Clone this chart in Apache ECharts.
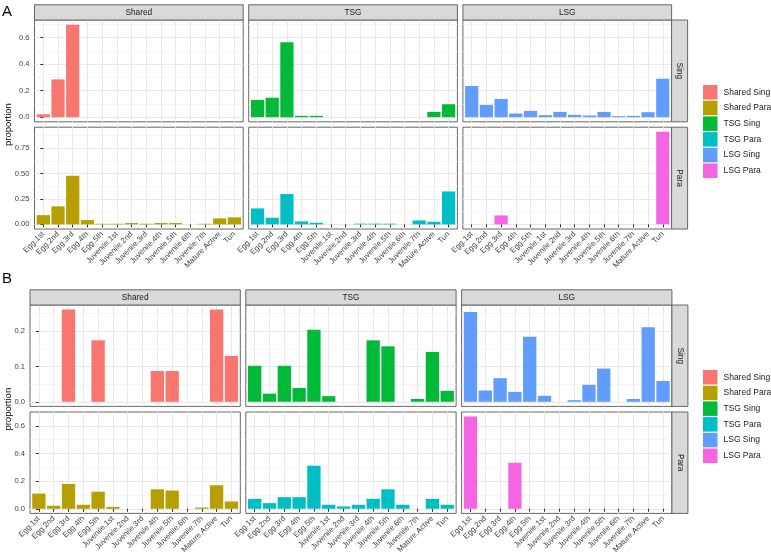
<!DOCTYPE html>
<html><head><meta charset="utf-8">
<script src="https://cdn.jsdelivr.net/npm/echarts@6/dist/echarts.min.js"></script>
<style>html,body{margin:0;padding:0;background:#fff}#c{width:771px;height:559px}</style>
</head><body><div id="c"></div>
<script>
// ---------- data ----------
const categories = ['Egg.1st','Egg.2nd','Egg.3rd','Egg.4th','Egg.5th','Juvenile.1st','Juvenile.2nd','Juvenile.3rd','Juvenile.4th','Juvenile.5th','Juvenile.6th','Juvenile.7th','Mature.Active','Tun'];
const columnNames = ['Shared','TSG','LSG'];
const rowNames = ['Sing','Para'];

// Panel A
const A_Shared_Sing = [0.022,0.285,0.698,0,0,0,0,0,0,0,0,0,0,0];
const A_Shared_Para = [0.091,0.177,0.478,0.042,0.006,0.006,0.013,0.006,0.013,0.013,0,0.006,0.059,0.069];
const A_TSG_Sing    = [0.13,0.147,0.565,0.01,0.01,0,0,0,0,0,0,0,0.04,0.0975];
const A_TSG_Para    = [0.157,0.065,0.298,0.029,0.016,0,0,0.007,0.007,0.007,0,0.039,0.026,0.324];
const A_LSG_Sing    = [0.235,0.0925,0.1375,0.0275,0.0475,0.015,0.04,0.0175,0.0125,0.04,0.0075,0.01,0.0375,0.29];
const A_LSG_Para    = [0,0,0.088,0,0,0,0,0,0,0,0,0,0,0.91];

// Panel B
const B_Shared_Sing = [0,0,0.261,0,0.174,0,0,0,0.087,0.087,0,0,0.261,0.13];
const B_Shared_Para = [0.11,0.022,0.18,0.029,0.124,0.014,0,0,0.141,0.132,0,0.009,0.17,0.053];
const B_TSG_Sing    = [0.102,0.023,0.102,0.039,0.204,0.016,0,0,0.174,0.157,0,0.008,0.141,0.031];
const B_TSG_Para    = [0.072,0.041,0.084,0.084,0.312,0.029,0.017,0.029,0.072,0.141,0.029,0,0.072,0.029];
const B_LSG_Sing    = [0.254,0.032,0.067,0.028,0.184,0.017,0,0.0045,0.048,0.094,0,0.008,0.211,0.059];
const B_LSG_Para    = [0.667,0,0,0.333,0,0,0,0,0,0,0,0,0,0];

// tick labels
const A_Sing_ticks = [0,0.2,0.4,0.6];
const A_Sing_minor = [0.1,0.3,0.5,0.7];
const A_Para_ticks = [0,0.25,0.5,0.75];
const A_Para_minor = [0.125,0.375,0.625,0.875];
const B_Sing_ticks = [0,0.1,0.2];
const B_Sing_minor = [0.05,0.15,0.25];
const B_Para_ticks = [0,0.2,0.4,0.6];
const B_Para_minor = [0.1,0.3,0.5];

const legendNames = ['Shared Sing','Shared Para','TSG Sing','TSG Para','LSG Sing','LSG Para'];
const palette = {'Shared Sing':'#F8766D','Shared Para':'#B79F00','TSG Sing':'#00BA38','TSG Para':'#00BFC4','LSG Sing':'#619CFF','LSG Para':'#F564E3'};

// ---------- layout ----------
const FONT = '"Liberation Sans", Arial, sans-serif';
const figures = [
  { tag:'A', tagY:4, values:{Shared:{Sing:A_Shared_Sing,Para:A_Shared_Para},TSG:{Sing:A_TSG_Sing,Para:A_TSG_Para},LSG:{Sing:A_LSG_Sing,Para:A_LSG_Para}},
    ticks:{Sing:A_Sing_ticks,Para:A_Para_ticks}, minor:{Sing:A_Sing_minor,Para:A_Para_minor}, digits:{Sing:1,Para:2},
    left:34.5, top:20, W:208.7, H:101.8, gapX:5.5, gapY:5.4, legendTop:85 },
  { tag:'B', tagY:271, values:{Shared:{Sing:B_Shared_Sing,Para:B_Shared_Para},TSG:{Sing:B_TSG_Sing,Para:B_TSG_Para},LSG:{Sing:B_LSG_Sing,Para:B_LSG_Para}},
    ticks:{Sing:B_Sing_ticks,Para:B_Para_ticks}, minor:{Sing:B_Sing_minor,Para:B_Para_minor}, digits:{Sing:1,Para:1},
    left:30, top:305, W:210.3, H:101.4, gapX:5.5, gapY:5.6, legendTop:370 }
];
const STRIP = 15.2, RSTRIP = 16;

const grids=[], xAxes=[], yAxes=[], series=[], graphics=[], legends=[];
const catIdx = categories.map((c,i)=>i);

figures.forEach(fig=>{
  const ranges = {};
  rowNames.forEach(r=>{
    let mx = 0;
    columnNames.forEach(c=>{ fig.values[c][r].forEach(v=>{ if(v>mx) mx=v; }); });
    ranges[r] = [-0.05*mx, 1.05*mx];
  });
  columnNames.forEach((col,ci)=>{
    const left = fig.left + ci*(fig.W+fig.gapX);
    graphics.push({type:'rect', shape:{x:left, y:fig.top-STRIP, width:fig.W, height:STRIP}, style:{fill:'#d9d9d9', stroke:'#666', lineWidth:1}, z:10});
    graphics.push({type:'text', x:left+fig.W/2, y:fig.top-STRIP/2+0.5, style:{text:col, textAlign:'center', textVerticalAlign:'middle', font:'8.3px '+FONT, fill:'#1a1a1a'}, z:11});
    rowNames.forEach((row,ri)=>{
      const top = fig.top + ri*(fig.H+fig.gapY);
      const gi = grids.length;
      const bottomRow = ri===rowNames.length-1;
      grids.push({left:left, top:top, width:fig.W, height:fig.H, show:true, borderColor:'#666', borderWidth:1, backgroundColor:'#fff'});
      xAxes.push({type:'value', gridIndex:gi, min:-0.6, max:categories.length-1+0.6,
        axisLine:{show:false},
        axisTick:{show:bottomRow, customValues:catIdx, length:3, lineStyle:{color:'#333'}},
        axisLabel:{show:bottomRow, customValues:catIdx, rotate:45, margin:4, fontSize:7.8, color:'#404040', fontFamily:FONT,
          formatter:v=>categories[Math.round(v)]},
        splitLine:{show:true, lineStyle:{color:'#e8e8e8', width:1}}});
      const rg = ranges[row];
      const dig = fig.digits[row];
      yAxes.push({type:'value', gridIndex:gi, min:rg[0], max:rg[1], position:'left',
        axisLine:{show:false},
        axisTick:{show:ci===0, customValues:fig.ticks[row], length:3, lineStyle:{color:'#333'}},
        axisLabel:{show:ci===0, customValues:fig.ticks[row], margin:5, fontSize:7.6, color:'#404040', fontFamily:FONT,
          formatter:v=>v.toFixed(dig)},
        splitLine:{show:true, lineStyle:{color:'#e8e8e8', width:1}}});
      yAxes.push({type:'value', gridIndex:gi, min:rg[0], max:rg[1], position:'left',
        axisLine:{show:false},
        axisTick:{show:false, customValues:fig.minor[row]},
        axisLabel:{show:false},
        splitLine:{show:true, lineStyle:{color:'#f2f2f2', width:0.8}}});
      const name = col+' '+row;
      series.push({type:'bar', name:name, xAxisIndex:gi, yAxisIndex:2*gi,
        data: fig.values[col][row].map((v,i)=>[i,v]),
        barWidth:'90%', itemStyle:{color:palette[name]},
        animation:false, silent:true});
      if (ci===columnNames.length-1) {
        const sx = left+fig.W;
        graphics.push({type:'rect', shape:{x:sx, y:top, width:RSTRIP, height:fig.H}, style:{fill:'#d9d9d9', stroke:'#666', lineWidth:1}, z:10});
        graphics.push({type:'text', x:sx+RSTRIP/2, y:top+fig.H/2, rotation:-Math.PI/2, style:{text:row, textAlign:'center', textVerticalAlign:'middle', font:'8.3px '+FONT, fill:'#1a1a1a'}, z:11});
      }
    });
  });
  const totalH = rowNames.length*fig.H + (rowNames.length-1)*fig.gapY;
  graphics.push({type:'text', x:8, y:fig.top+totalH/2, rotation:Math.PI/2, style:{text:'proportion', textAlign:'center', textVerticalAlign:'middle', font:'9.5px '+FONT, fill:'#000'}});
  graphics.push({type:'text', x:2, y:fig.tagY, style:{text:fig.tag, textAlign:'left', textVerticalAlign:'top', font:'15px '+FONT, fill:'#000'}});
  legends.push({data:legendNames, orient:'vertical', left:703, top:fig.legendTop, padding:0, icon:'rect',
    itemWidth:14.5, itemHeight:14.5, itemGap:1.2, selectedMode:false,
    itemStyle:{borderWidth:0},
    textStyle:{fontSize:8.5, color:'#1a1a1a', fontFamily:FONT, padding:[0,0,0,1]}});
});

const chart = echarts.init(document.getElementById('c'), null, {renderer:'canvas'});
chart.setOption({
  animation:false,
  backgroundColor:'#fff',
  textStyle:{fontFamily:FONT},
  grid:grids, xAxis:xAxes, yAxis:yAxes, series:series,
  legend:legends,
  graphic:{elements:graphics}
});
</script>
</body></html>
